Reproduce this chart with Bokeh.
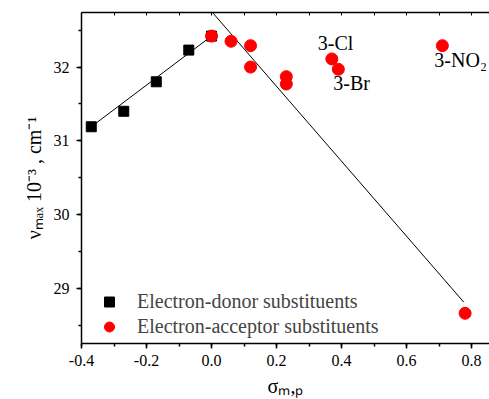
from bokeh.plotting import figure
from bokeh.models import (Range1d, LinearAxis, SingleIntervalTicker, NumeralTickFormatter,
                          Legend, LegendItem, ColumnDataSource, CustomJSTickFormatter)
from bokeh.core.properties import value
from bokeh.embed import file_html
from bokeh.resources import INLINE

# Data
donor_x = [-0.37, -0.27, -0.17, -0.07, 0.0]
donor_y = [31.19, 31.40, 31.80, 32.23, 32.42]

acceptor_x = [0.0, 0.06, 0.12, 0.12, 0.23, 0.23, 0.37, 0.39, 0.71, 0.78]
acceptor_y = [32.42, 32.35, 32.29, 32.00, 31.87, 31.77, 32.11, 31.97, 32.29, 28.66]

fit1_x = [-0.37, 0.0]
fit1_y = [31.19, 32.42]
fit2_x = [0.0, 0.776]
fit2_y = [32.755, 28.81]

label_text = ["3-Cl", "3-Br", "3-NO\u2082"]
label_x = [0.37, 0.39, 0.71]
label_y = [32.11, 31.97, 32.29]
label_dx = [-14, -5, -8]
label_dy = [-16, 14, 14]

FONT = "Liberation Serif"

p = figure(width=489, height=399, output_backend="svg", toolbar_location=None,
           x_range=Range1d(-0.4, 0.855), y_range=Range1d(28.25, 32.74),
           min_border_left=81, min_border_right=0, min_border_top=12, min_border_bottom=55,
           background_fill_color="white", border_fill_color="white")
p.outline_line_color = None
p.grid.visible = False

xa = p.xaxis[0]
ya = p.yaxis[0]
for ax in (xa, ya):
    ax.axis_line_width = 1.5
    ax.major_tick_line_width = 1.5
    ax.minor_tick_line_width = 1.5
    ax.major_tick_in = 0
    ax.major_tick_out = 5
    ax.minor_tick_in = 0
    ax.minor_tick_out = 3
    ax.major_label_text_font = FONT
    ax.major_label_text_font_size = "16px"
    ax.major_label_text_color = "black"
    ax.axis_label_text_font = FONT
    ax.axis_label_text_font_size = "20px"
    ax.axis_label_text_font_style = "normal"
    ax.axis_label_text_color = "black"

xa.ticker = SingleIntervalTicker(interval=0.2, num_minor_ticks=2)
xa.formatter = NumeralTickFormatter(format="0.0")
xa.major_label_standoff = 6
xa.axis_label = "\u03c3\u2098,\u209a"
xa.axis_label_standoff = 6

ya.ticker = SingleIntervalTicker(interval=1, num_minor_ticks=2)
ya.formatter = NumeralTickFormatter(format="0")
ya.major_label_standoff = 7
ya.axis_label = "\u03bd\u2098\u2090\u2093 10\u207b\u00b3 , cm\u207b\u00b9"
ya.axis_label_standoff = 6

top = LinearAxis(ticker=SingleIntervalTicker(interval=0.1, num_minor_ticks=0),
                 formatter=CustomJSTickFormatter(code="return ''"),
                 major_label_standoff=0,
                 major_tick_in=3, major_tick_out=0, minor_tick_in=0, minor_tick_out=0,
                 axis_line_width=1.5, major_tick_line_width=1)
p.add_layout(top, "above")

p.line(fit1_x, fit1_y, line_color="black", line_width=1)
p.line(fit2_x, fit2_y, line_color="black", line_width=1)

r_donor = p.scatter(donor_x, donor_y, marker="square", size=10, fill_color="black",
                    line_color="black")
r_acc = p.scatter(acceptor_x, acceptor_y, marker="circle", size=12, fill_color="red",
                  line_color="red")

src = ColumnDataSource(dict(x=label_x, y=label_y, t=label_text, dx=label_dx, dy=label_dy))
p.text(x="x", y="y", text="t", x_offset="dx", y_offset="dy", source=src,
       text_font=value(FONT), text_font_size="20px", text_color="black",
       text_align="left", text_baseline="alphabetic")

legend = Legend(items=[LegendItem(label="Electron-donor substituents", renderers=[r_donor]),
                       LegendItem(label="Electron-acceptor substituents", renderers=[r_acc])],
                location=(14, 4), background_fill_alpha=0, border_line_color=None,
                label_text_font=FONT, label_text_font_size="20px",
                glyph_width=28, glyph_height=25, label_height=25, spacing=0,
                label_standoff=14, padding=0, margin=0)
p.add_layout(legend, "center")

open("out.html", "w").write(file_html(p, INLINE))
